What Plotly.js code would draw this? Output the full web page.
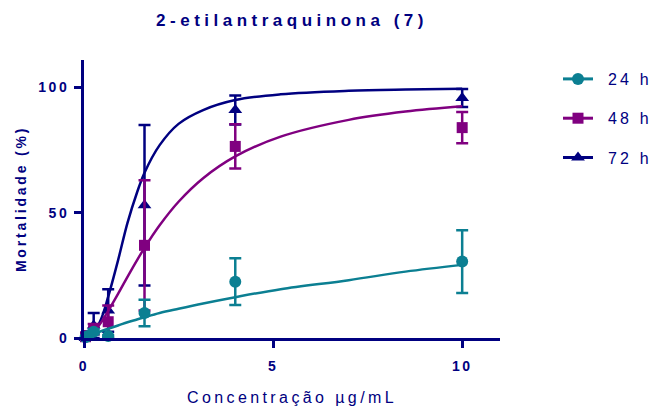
<!DOCTYPE html>
<html>
<head>
<meta charset="utf-8">
<script src="https://cdn.plot.ly/plotly-3.0.1.min.js"></script>
<style>
  html, body { margin: 0; padding: 0; background: #fff; }
  #chart { width: 669px; height: 412px; }
  .gtitle { letter-spacing: 4.5px; }
  .xtitle { letter-spacing: 3.4px; }
  .ytitle { letter-spacing: 2.8px; }
  .xtick text, .ytick text { letter-spacing: 2.5px; }
  .legendtext { letter-spacing: 3.2px; transform: translateX(10px); }
  .legend .scrollbox, .legend g { clip-path: none !important; }
</style>
</head>
<body>
<div id="chart"></div>
<script>
// ---- data ----
const conc = [0.04, 0.1, 0.256, 0.64, 1.6, 4, 10];

const mean24 = [0.3, 0.8, 2.5, 0.8, 10.0, 22.5, 30.5];
const sd24   = [0, 0.5, 1.0, 0.3, 5.3, 9.3, 12.5];

const mean48 = [0.5, 1.0, 3.5, 6.5, 37, 76.5, 84];
const sd48   = [0, 1.0, 2.1, 6.5, 26, 8.8, 6.2];

const mean72 = [0, 1.0, 5, 11, 53, 91, 95.8];
const sd72   = [0, 1.0, 5, 8.5, 32, 5.8, 3.6];

// fitted curves as traced on the picture
const curveX   = [0.04, 0.25, 0.45, 0.64, 0.9, 1.15, 1.4, 1.6, 2.0, 2.5, 3.15, 4, 5.2, 7, 8.5, 10];
const curve24  = [0.3, 1.6, 2.7, 3.7, 5.0, 6.3, 7.4, 8.3, 10.0, 11.7, 13.8, 16.3, 19.5, 23.1, 26.5, 29.2];
const curve48  = [0.1, 2.4, 6.2, 10.8, 17.6, 24.4, 31, 36, 45, 54.4, 63.8, 72.5, 80.4, 87.1, 90.4, 92.5];
const curve72  = [0, 2, 7.5, 16.5, 31, 46, 58, 66, 77, 85.5, 91, 95, 97.3, 98.7, 99.2, 99.5];

const seriesNames = ['24 h', '48 h', '72 h'];
const xTicks = [0, 5, 10];
const yTicks = [0, 50, 100];

// ---- styling ----
const C24 = '#0b7f92', C48 = '#800080', C72 = '#000080';
const NAVY = '#000080';
const FONT = 'Liberation Sans, Arial, sans-serif';

function curveTrace(y, color) {
  return { x: curveX, y: y, mode: 'lines', type: 'scatter', showlegend: false,
           line: { color: color, width: 2.5, shape: 'spline', smoothing: 1 },
           hoverinfo: 'skip', cliponaxis: false };
}
function pointTrace(y, sd, color, symbol, size) {
  return { x: conc, y: y, mode: 'markers', type: 'scatter', showlegend: false,
           marker: { color: color, symbol: symbol, size: size },
           error_y: { type: 'data', array: sd, visible: true, color: color, thickness: 2.5, width: 6 },
           cliponaxis: false };
}
function legendTrace(name, color, symbol, size, rank) {
  return { x: [null], y: [null], name: name, mode: 'lines+markers', type: 'scatter',
           legendgroup: name, legendrank: rank,
           line: { color: color, width: 3 }, marker: { color: color, symbol: symbol, size: size } };
}

const data = [
  curveTrace(curve72, C72), pointTrace(mean72, sd72, C72, 'triangle-up', 12),
  curveTrace(curve48, C48), pointTrace(mean48, sd48, C48, 'square', 11),
  curveTrace(curve24, C24), pointTrace(mean24, sd24, C24, 'circle', 12),
  legendTrace(seriesNames[0], C24, 'circle', 12, 1),
  legendTrace(seriesNames[1], C48, 'square', 11, 2),
  legendTrace(seriesNames[2], C72, 'triangle-up', 12, 3)
];

const layout = {
  width: 669, height: 412,
  margin: { l: 84, r: 169, t: 60, b: 74 },
  paper_bgcolor: '#fff', plot_bgcolor: '#fff',
  font: { family: FONT, color: NAVY },
  title: { text: '2-etilantraquinona (7)', x: 0.5, xref: 'paper', y: 0.951, yref: 'container', yanchor: 'middle',
           font: { family: FONT, size: 17, weight: 'bold', color: NAVY } },
  xaxis: {
    range: [0, 11], tickvals: xTicks, ticktext: xTicks.map(String),
    showgrid: false, zeroline: false, showline: true, linecolor: NAVY, linewidth: 3,
    ticks: 'outside', ticklen: 7, tickwidth: 3, tickcolor: NAVY, ticklabelstandoff: 6,
    tickfont: { family: FONT, size: 14, weight: 'bold', color: NAVY },
    title: { text: 'Concentração µg/mL', standoff: 20, font: { family: FONT, size: 16, color: NAVY } },
    automargin: false
  },
  yaxis: {
    range: [0, 111], tickvals: yTicks, ticktext: yTicks.map(String),
    showgrid: false, zeroline: false, showline: true, linecolor: NAVY, linewidth: 3,
    ticks: 'outside', ticklen: 7, tickwidth: 3, tickcolor: NAVY, ticklabelstandoff: 2,
    tickfont: { family: FONT, size: 14, weight: 'bold', color: NAVY },
    title: { text: 'Mortalidade (%)', standoff: 9, font: { family: FONT, size: 14, weight: 'bold', color: NAVY } },
    automargin: false
  },
  showlegend: true,
  legend: {
    x: (558 - 84) / 416, xanchor: 'left', y: 1 + (60 - 62) / 278, yanchor: 'top',
    traceorder: 'grouped', tracegroupgap: 15.5, itemwidth: 30,
    font: { family: FONT, size: 16, color: NAVY }, bgcolor: 'rgba(0,0,0,0)', borderwidth: 0
  }
};

Plotly.newPlot('chart', data, layout, { displayModeBar: false, staticPlot: true });
</script>
</body>
</html>
